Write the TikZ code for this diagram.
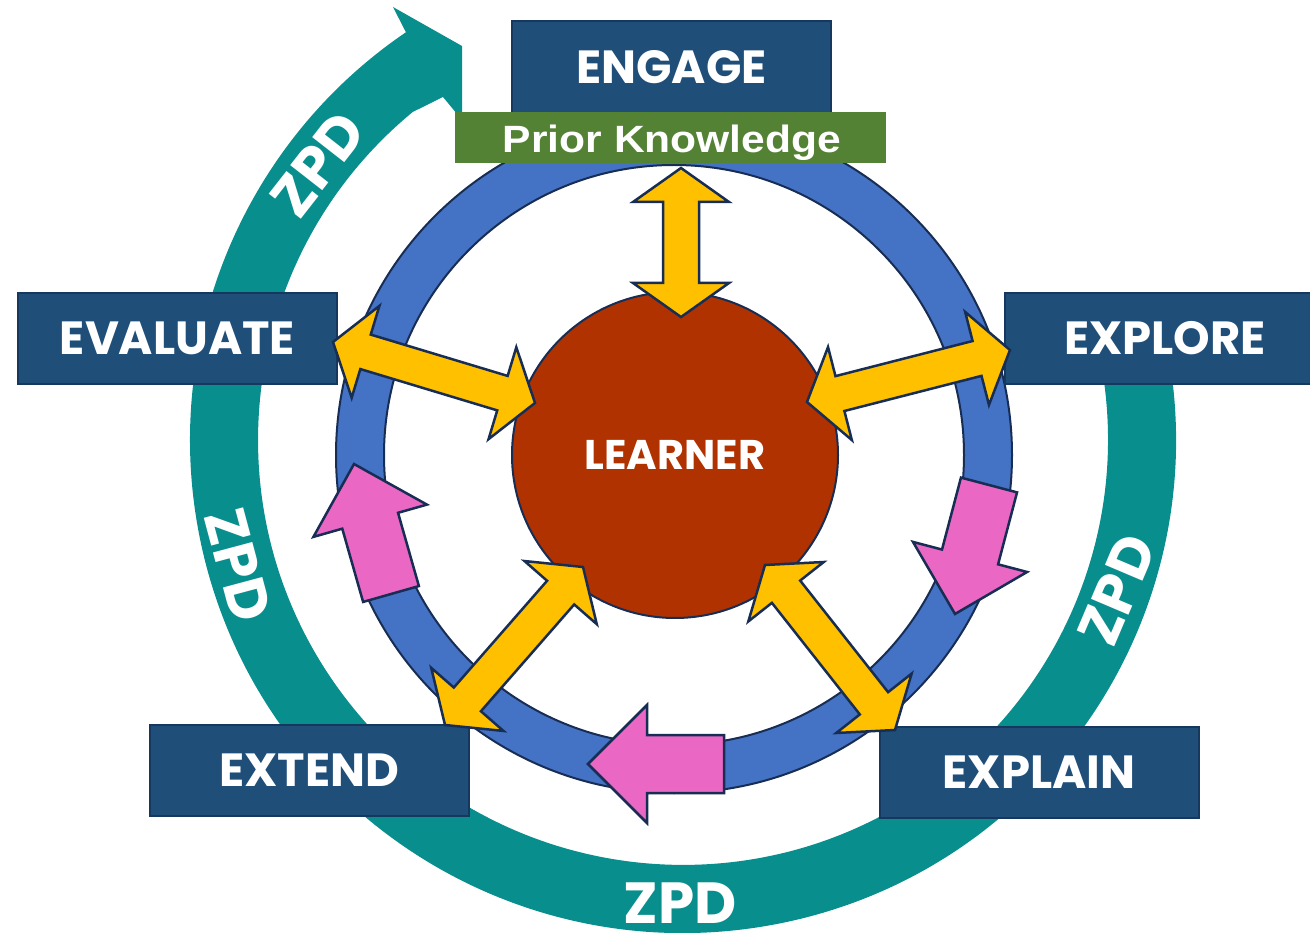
\documentclass[tikz,border=0pt]{standalone}
\usepackage{fontspec}
\newfontfamily\geo{Poppins}
\newfontfamily\arialb{Liberation Sans}
\definecolor{zpdteal}{RGB}{9,142,142}
\definecolor{ringblue}{RGB}{68,114,196}
\definecolor{navy}{RGB}{24,45,84}
\definecolor{boxblue}{RGB}{31,78,121}
\definecolor{boxedge}{RGB}{22,55,94}
\definecolor{gold}{RGB}{255,192,0}
\definecolor{pinkarrow}{RGB}{234,103,196}
\definecolor{rust}{RGB}{176,50,0}
\definecolor{priorgreen}{RGB}{84,130,53}
\tikzset{
  stagebox/.style={draw=boxedge, line width=2, fill=boxblue, text=white,
    minimum width=319, minimum height=91, inner sep=0,
    font=\geo\bfseries\fontsize{46.5}{46.5}\selectfont},
  zpdlabel/.style={text=white, inner sep=0, font=\geo\bfseries\fontsize{58}{58}\selectfont},
  yellowshape/.style={draw=navy, fill=gold, line width=2.5, line join=miter},
  pinkshape/.style={draw=navy, fill=pinkarrow, line width=2.5, line join=miter},
}
\newcommand\yarrow[2]{%
  \path (#1); \pgfgetlastxy{\ax}{\ay}%
  \path (#2); \pgfgetlastxy{\bx}{\by}%
  \pgfmathsetmacro\yang{atan2(\by-\ay,\bx-\ax)}%
  \pgfmathsetmacro\ylen{veclen(\bx-\ax,\by-\ay)}%
  \begin{scope}[shift={(#1)}, rotate=\yang]
    \draw[yellowshape] (0,0) -- (34,48) -- (34,18) -- (\ylen-34,18) -- (\ylen-34,48)
      -- (\ylen,0) -- (\ylen-34,-48) -- (\ylen-34,-18) -- (34,-18) -- (34,-48) -- cycle;
  \end{scope}}
\newcommand\parrow[2]{%
  \path (#1); \pgfgetlastxy{\ax}{\ay}%
  \path (#2); \pgfgetlastxy{\bx}{\by}%
  \pgfmathsetmacro\yang{atan2(\by-\ay,\bx-\ax)}%
  \pgfmathsetmacro\ylen{veclen(\bx-\ax,\by-\ay)}%
  \begin{scope}[shift={(#1)}, rotate=\yang]
    \draw[pinkshape] (0,29) -- (\ylen-59,29) -- (\ylen-59,59) -- (\ylen,0)
      -- (\ylen-59,-59) -- (\ylen-59,-29) -- (0,-29) -- cycle;
  \end{scope}}
\begin{document}
\begin{tikzpicture}[x=1pt,y=1pt]
\useasboundingbox (0,0) rectangle (1310,-933);
\clip (0,0) rectangle (1310,-933);
% ZPD band with arrow head
\coordinate (zc) at (683,-440);
\fill[zpdteal] ([shift={(10:493)}]zc) arc[start angle=10, end angle=-235.8, radius=493]
  -- (393,-7) -- (462,-46) -- (462,-120) -- (443,-97) -- (412.7,-112)
  arc[start angle=-230.5, end angle=10, radius=425] -- cycle;
% blue ring
\coordinate (bc) at (674,-455);
\fill[ringblue, even odd rule] (bc) circle[radius=338] (bc) circle[radius=290];
\draw[navy, line width=2] (bc) circle[radius=338] (bc) circle[radius=290];
% learner
\node[circle, fill=rust, draw=navy, line width=2, minimum size=326, inner sep=0,
  text=white, font=\geo\bfseries\fontsize{41.5}{41.5}\selectfont] (learner) at (675,-455) {LEARNER};
% stage boxes
\node[stagebox, minimum height=100] (engage) at (671.5,-71) {\raisebox{9pt}{ENGAGE}};
\node[draw=none, fill=priorgreen, minimum width=431, minimum height=51, inner sep=0] (prior) at (670.5,-137.5) {};
\node[anchor=base, text=white, inner sep=0, font=\arialb\bfseries\fontsize{38}{38}\selectfont] (priortxt) at (672,-153) {\scalebox{1.12}[1]{Prior Knowledge}};
\node[stagebox] (evaluate) at (177.5,-338.5) {EVALUATE};
\node[stagebox, minimum width=320] (explore) at (1165,-338.5) {EXPLORE};
\node[stagebox] (extend) at (309.5,-770.5) {EXTEND};
\node[stagebox] (explain) at (1039,-772.5) {EXPLAIN};
% ZPD labels
\node[zpdlabel, rotate=52] (zpd1) at (318,-164) {ZPD};
\node[zpdlabel, rotate=-75] (zpd2) at (238,-565) {ZPD};
\node[zpdlabel, rotate=67] (zpd3) at (1117,-590) {ZPD};
\node[zpdlabel] (zpd4) at (680,-903) {ZPD};
% pink arrows
\coordinate (pLb) at (391,-594); \coordinate (pLt) at (354,-464);
\coordinate (pRb) at (989,-485); \coordinate (pRt) at (955,-614);
\coordinate (pBb) at (724,-764); \coordinate (pBt) at (588,-764);
\parrow{pLb}{pLt}
\parrow{pRb}{pRt}
\parrow{pBb}{pBt}
% yellow double arrows
\coordinate (yT1) at (681,-168); \coordinate (yT2) at (681,-317);
\coordinate (yL1) at (333,-342); \coordinate (yL2) at (535,-403);
\coordinate (yR1) at (807,-402); \coordinate (yR2) at (1010,-350);
\coordinate (yX1) at (583,-567); \coordinate (yX2) at (445,-725);
\coordinate (yP1) at (765,-565); \coordinate (yP2) at (895,-730);
\yarrow{yT1}{yT2}
\yarrow{yL1}{yL2}
\yarrow{yR1}{yR2}
\yarrow{yX1}{yX2}
\yarrow{yP1}{yP2}
\end{tikzpicture}
\end{document}
